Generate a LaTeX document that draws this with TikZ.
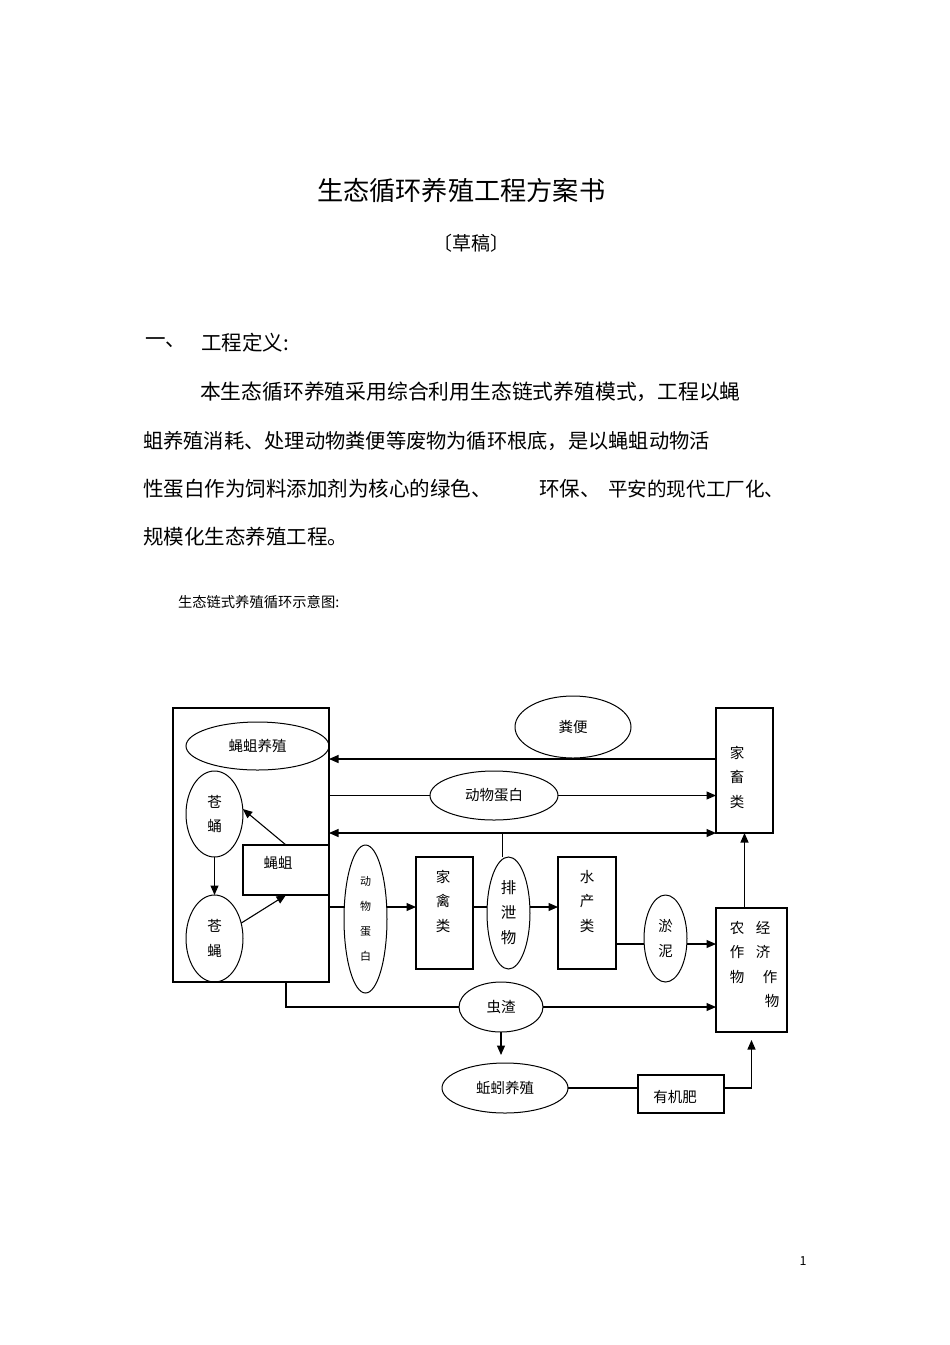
\documentclass[tikz,border=0pt]{standalone}
\usepackage{fontspec}
\setmainfont{Noto Sans CJK SC}
\newfontfamily\cjk{Noto Sans CJK SC}
\usetikzlibrary{arrows.meta,shapes.geometric,calc}
\begin{document}
\begin{tikzpicture}[x=1pt,y=-1pt,
  every node/.style={inner sep=0pt, outer sep=0pt},
  lbl/.style={font=\cjk\fontsize{14.5}{24.5}\selectfont, align=center},
  ell/.style={draw, ellipse, line width=1pt, inner sep=0pt},
  box/.style={draw, rectangle, line width=1.1pt},
  conn/.style={line width=1.1pt},
  arr/.style={conn, -{Triangle[length=9.5pt,width=8pt]}},
  darr/.style={conn, {Triangle[length=9.5pt,width=8pt]}-{Triangle[length=9.5pt,width=8pt]}},
  body/.style={anchor=west, font=\cjk\fontsize{20.5}{20.5}\selectfont},
]
\fill[white] (0,0) rectangle (950,1345);
\useasboundingbox (0,0) rectangle (950,1345);

% ---------- page text ----------
\node[anchor=west, font=\cjk\fontsize{26.2}{26.2}\selectfont] (title) at (317,191) {生态循环养殖工程方案书};
\node[anchor=west, font=\cjk\fontsize{19}{19}\selectfont] (draft) at (433,243) {〔草稿〕};
\node[body] (secnum) at (145,343) {一、};
\node[body] (sectitle) at (201,343) {工程定义:};
\node[body, font=\cjk\fontsize{20.8}{20.8}\selectfont] (p1) at (200,392) {本生态循环养殖采用综合利用生态链式养殖模式，工程以蝇};
\node[body, font=\cjk\fontsize{20.25}{20.25}\selectfont] (p2) at (143,441) {蛆养殖消耗、处理动物粪便等废物为循环根底，是以蝇蛆动物活};
\node[body] (p3a) at (143,489) {性蛋白作为饲料添加剂为核心的绿色、};
\node[body] (p3b) at (539,489) {环保、};
\node[body, font=\cjk\fontsize{19.6}{19.6}\selectfont] (p3c) at (608,489) {平安的现代工厂化、};
\node[body] (p4) at (143,537) {规模化生态养殖工程。};
\node[anchor=west, font=\cjk\fontsize{14.3}{14.3}\selectfont] (caption) at (178,602) {生态链式养殖循环示意图:};
\node[font=\cjk\fontsize{12.5}{12.5}\selectfont] (pagenum) at (803,1261) {1};

% ---------- diagram shapes ----------
\node[box, line width=1.4pt, minimum width=156pt, minimum height=274pt] (big) at (251,845) {};
\node[ell, lbl, minimum width=143pt, minimum height=48pt] (yqyz) at (257.5,746) {蝇蛆养殖};
\node[ell, lbl, minimum width=57pt, minimum height=86pt] (cy) at (214.5,814) {苍\\蛹};
\node[ell, lbl, minimum width=57pt, minimum height=87pt] (cyi) at (214.5,938.5) {苍\\蝇};
\node[box, fill=white, minimum width=86pt, minimum height=50pt] (yq) at (286,870) {};
\node[lbl] (yqt) at (278,863) {蝇蛆};

\node[ell, font=\cjk\fontsize{11}{25}\selectfont, align=center, minimum width=43pt, minimum height=148pt] (dw) at (365.5,919) {动\\物\\蛋\\白};
\node[box, minimum width=57pt, minimum height=112pt] (jql) at (444.5,913) {};
\node[lbl] (jqlt) at (443,901) {家\\禽\\类};
\node[ell, font=\cjk\fontsize{15.5}{25}\selectfont, align=center, minimum width=43pt, minimum height=112pt] (pxw) at (508.5,913) {排\\泄\\物};
\node[box, minimum width=58pt, minimum height=112pt] (scl) at (587,913) {};
\node[lbl] (sclt) at (587,901) {水\\产\\类};
\node[ell, lbl, minimum width=43pt, minimum height=87pt] (yn) at (665.5,938.5) {淤\\泥};
\node[box, minimum width=71pt, minimum height=124pt] (nzw) at (751.5,970) {};
\node[lbl] (nzwl) at (737,952) {农\\作\\物};
\node[lbl, align=left] (nzwr) at (767.5,964.5) {经\\济\\\hspace*{7pt}作\\\hspace*{9pt}物};

\node[box, minimum width=57pt, minimum height=125pt] (jcl) at (744.5,770.5) {};
\node[lbl] (jclt) at (737,777) {家\\畜\\类};
\node[ell, lbl, minimum width=116pt, minimum height=62pt] (fb) at (573,727) {粪便};
\node[ell, lbl, minimum width=128pt, minimum height=49pt] (dw2) at (494,795.5) {动物蛋白};
\node[ell, lbl, minimum width=84pt, minimum height=50pt] (cz) at (501,1007) {虫渣};
\node[ell, lbl, minimum width=126pt, minimum height=50pt] (qy) at (505,1088) {蚯蚓养殖};
\node[box, minimum width=86pt, minimum height=38pt] (yjf) at (681,1094) {};
\node[lbl] (yjft) at (675,1097) {有机肥};

% ---------- helper coordinates ----------
\coordinate (yF) at (0,759);
\coordinate (yP) at (0,833);
\coordinate (yA) at (0,907);
\coordinate (yS) at (0,944);
\coordinate (pxtop) at ([xshift=-6pt]pxw.north);
\coordinate (qtop) at ([yshift=8pt]qy.north);
\coordinate (nzwbot) at ([yshift=-8pt]nzw.south);

% ---------- connectors ----------
\draw[arr] (jcl.west |- yF) -- (big.east |- yF);
\draw[conn] (big.east |- dw2.west) -- (dw2.west);
\draw[arr] (dw2.east) -- (jcl.west |- dw2.east);
\draw[darr] (big.east |- yP) -- (jcl.west |- yP);
\draw[conn] (pxtop |- yP) -- (pxtop);
\draw[conn] (big.east |- yA) -- (dw.west |- yA);
\draw[arr] (dw.east |- yA) -- (jql.west |- yA);
\draw[conn] (jql.east |- yA) -- (pxw.west |- yA);
\draw[arr] (pxw.east |- yA) -- (scl.west |- yA);
\draw[conn] (scl.east |- yS) -- (yn.west |- yS);
\draw[arr] (yn.east |- yS) -- (nzw.west |- yS);
\draw[arr] (jcl.south |- nzw.north) -- (jcl.south);
\draw[conn] (big.south -| yq.south) |- (cz.west);
\draw[arr] (cz.east) -- (nzw.west |- cz.east);
\draw[arr] (cz.south) -- (cz.south |- qtop);
\draw[conn] (qy.east) -- (yjf.west |- qy.east);
\draw[arr] (yjf.east |- qy.east) -| (nzwbot);
\draw[arr] (yq.north) -- (cy.10);
\draw[arr] (cy.south) -- (cyi.north);
\draw[arr] (cyi.30) -- (yq.south);
\end{tikzpicture}
\end{document}
